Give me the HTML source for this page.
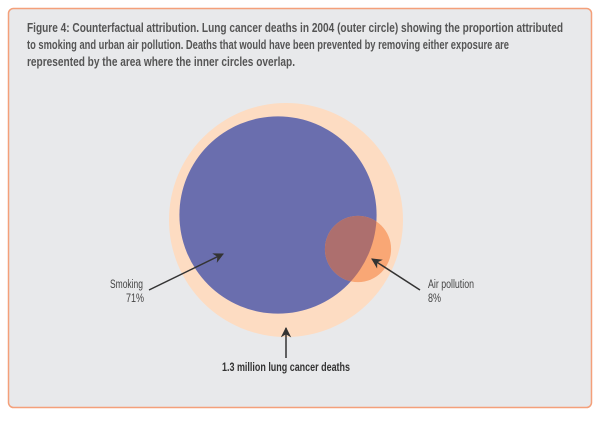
<!DOCTYPE html>
<html><head><meta charset="utf-8"><style>
html,body{margin:0;padding:0;background:#fff;width:600px;height:421px;overflow:hidden}
svg{display:block;font-family:"Liberation Sans Narrow","Liberation Sans",sans-serif}
</style></head><body>
<svg width="600" height="421" viewBox="0 0 600 421">
<defs>
<marker id="ah" viewBox="0 0 10 10" refX="9" refY="5" markerWidth="7" markerHeight="7" orient="auto"><path d="M0,0 L10,5 L0,10 L3,5 Z" fill="#333"/></marker>
<clipPath id="blueClip"><circle id="bc" cx="0" cy="0" r="0"/></clipPath>
</defs>
<rect x="8.5" y="8.5" width="583" height="399" rx="5" fill="#e8e9eb" stroke="#f4a07a" stroke-width="1.5"/>
<g fill="#555" font-weight="bold" font-size="12.5">
<text x="27" y="32" textLength="536" lengthAdjust="spacingAndGlyphs">Figure 4: Counterfactual attribution. Lung cancer deaths in 2004 (outer circle) showing the proportion attributed</text>
<text x="27" y="49" textLength="482" lengthAdjust="spacingAndGlyphs">to smoking and urban air pollution. Deaths that would have been prevented by removing either exposure are</text>
<text x="27" y="66" textLength="268" lengthAdjust="spacingAndGlyphs">represented by the area where the inner circles overlap.</text>
</g>
<g id="circles"></g>
<g fill="#444" font-size="11.5">
<text x="110" y="288" textLength="33" lengthAdjust="spacingAndGlyphs">Smoking</text>
<text x="144" y="302" text-anchor="end" textLength="18" lengthAdjust="spacingAndGlyphs">71%</text>
<text x="428" y="288" textLength="46" lengthAdjust="spacingAndGlyphs">Air pollution</text>
<text x="428" y="302" textLength="13" lengthAdjust="spacingAndGlyphs">8%</text>
<text x="222" y="371" textLength="128" lengthAdjust="spacingAndGlyphs" font-weight="bold" fill="#333" font-size="12">1.3 million lung cancer deaths</text>
</g>
<g stroke="#333" stroke-width="1.5" fill="none">
<line x1="149" y1="290" x2="223" y2="254" marker-end="url(#ah)"/>
<line x1="420" y1="290" x2="372" y2="259" marker-end="url(#ah)"/>
<line x1="286" y1="358" x2="286" y2="328" marker-end="url(#ah)"/>
</g>
</svg>
<script>
const categories = ["Total", "Smoking", "Air pollution"];
const shares = [1.0, 0.71, 0.08];
const totalDeathsMillions = [1.3];
(function(){
  const NS="http://www.w3.org/2000/svg";
  const g=document.getElementById("circles");
  const R=117, cx=286, cy=220;
  const r=s=>R*Math.sqrt(s);
  const rS=r(shares[1]), rA=r(shares[2]);
  const sx=278, sy=215;
  const ax=358, ay=249;
  function circ(x,y,rad,fill,name){
    const c=document.createElementNS(NS,"circle");
    c.setAttribute("cx",x);c.setAttribute("cy",y);c.setAttribute("r",rad);c.setAttribute("fill",fill);
    
    
    g.appendChild(c);return c;
  }
  circ(cx,cy,r(shares[0]),"#fddcc2","outer-circle-total");
  circ(sx,sy,rS,"#6a6eae","smoking-circle");
  circ(ax,ay,rA,"#f9a775","air-pollution-circle");
  const bc=document.getElementById("bc");
  bc.setAttribute("cx",sx);bc.setAttribute("cy",sy);bc.setAttribute("r",rS);
  const ov=circ(ax,ay,rA,"#ad6f6e","overlap-region");
  ov.setAttribute("clip-path","url(#blueClip)");
})();
</script>
</body></html>
